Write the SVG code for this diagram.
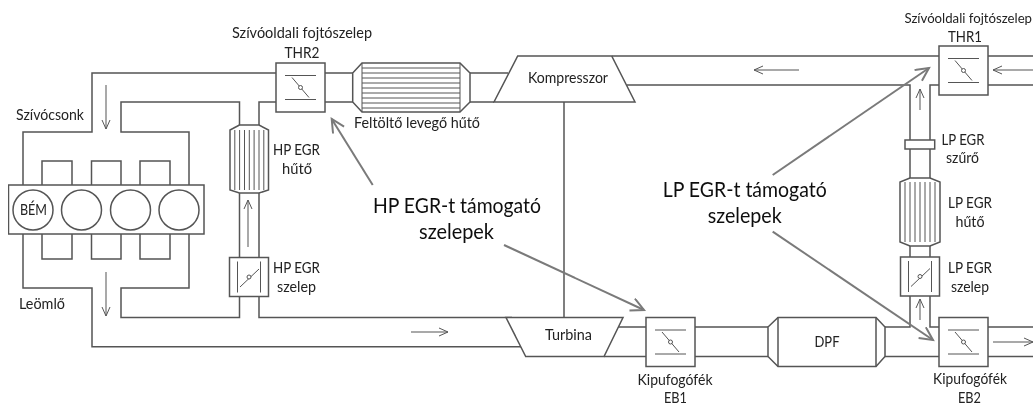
<svg xmlns="http://www.w3.org/2000/svg" xmlns:xlink="http://www.w3.org/1999/xlink" width="1033" height="406" viewBox="0 0 1033 406">
<style>
.l{fill:none;stroke:#555;stroke-width:1.5;stroke-linejoin:miter}
.n{fill:none;stroke:#555;stroke-width:1}
.f{fill:#fff;stroke:#555;stroke-width:1.5}
.c{fill:#fff;stroke:#555;stroke-width:1}
.a{fill:none;stroke:#555;stroke-width:1;marker-end:url(#h)}
.g{fill:none;stroke:#7a7a7a;stroke-width:2;marker-end:url(#H)}
text{font-family:Lato,"Open Sans","Liberation Sans",sans-serif;font-size:14.5px;fill:#222;text-anchor:middle}
.b{font-size:22px;fill:#111}
</style>
<defs>
<filter id="soft" x="0" y="0" width="100%" height="100%"><feGaussianBlur stdDeviation="0.35"/></filter>
<marker id="h" markerUnits="userSpaceOnUse" markerWidth="12" markerHeight="12" refX="10" refY="5" orient="auto"><path d="M1,1L10,5L1,9" fill="none" stroke="#555" stroke-width="1"/></marker>
<marker id="H" markerUnits="userSpaceOnUse" markerWidth="18" markerHeight="18" refX="15" refY="7" orient="auto"><path d="M2,0.5L15,7L2,13.5" fill="none" stroke="#7a7a7a" stroke-width="2"/></marker>
<g id="vh"><rect class="f" x="-24.5" y="-24.5" width="49" height="49"/><path class="n" d="M-15.5,-12H15.5M-15.5,12H15.5M-8.5,-10L8.5,10"/><circle class="c" r="2"/></g>
<g id="vv"><rect class="f" x="-19.5" y="-19.5" width="39" height="39"/><path class="n" d="M-11.5,-15.5V15.5M11.5,-15.5V15.5M-9,10L10,-8"/><circle class="c" r="2"/></g>
</defs>
<rect width="1033" height="406" fill="#fff"/>
<g filter="url(#soft)">
<g id="connectors">
<path class="l" d="M23,185V132H92V73H276"/>
<path class="l" d="M189,185V132H121V102H239.5V125M259,125V102H276"/>
<path class="l" d="M325,73H352.7M325,102H352.7M470,73H508M470,102H494"/>
<path class="l" d="M612,56H939M627,85H910V140M930,140V85H939M910,149V178M930,149V178M910,246V257M930,246V257"/>
<path class="l" d="M988,56H1033M988,85H1033"/>
<path class="l" d="M564,102V317.5"/>
<path class="l" d="M23,234V288H92V346.7H522"/>
<path class="l" d="M189,234V288H121V317.5H239.5V297M259,297V317.5H512"/>
<path class="l" d="M239.5,193V258M259,193V258"/>
<path class="l" d="M618,327H646M604,356.5H646M695,327H768M695,356.5H768"/>
<path class="l" d="M885,327H910V296M930,296V327H939M885,356.5H939M988,327H1033M988,356.5H1033"/>
<path class="a" d="M106,85V129"/>
<path class="a" d="M106,272V316"/>
<path class="a" d="M248,247V200"/>
<path class="a" d="M411,332H448"/>
<path class="a" d="M799,70H754"/>
<path class="a" d="M1033,70H993"/>
<path class="a" d="M920,110V89"/>
<path class="a" d="M920,320V299"/>
<path class="a" d="M993,342H1033"/>
</g>
<g id="engine">
<rect class="l" x="8.5" y="185" width="195.5" height="49"/>
<path class="l" d="M42,185V161H72V185M91.5,185V161H121V185M140,185V161H170V185M42,234V259H72V234M91.5,234V259H121V234M140,234V259H170V234"/>
<circle class="l" cx="33" cy="210" r="20"/><circle class="l" cx="81.5" cy="210" r="20"/><circle class="l" cx="130.5" cy="210" r="20"/><circle class="l" cx="179" cy="210" r="20"/>
<text x="33.5" y="215" textLength="27" lengthAdjust="spacingAndGlyphs">BÉM</text>
</g>
<g id="thr2"><use xlink:href="#vh" href="#vh" transform="translate(300.5 87.5)"/>
<text x="302" y="38" textLength="140" lengthAdjust="spacingAndGlyphs">Szívóoldali fojtószelep</text><text x="302" y="58" textLength="35" lengthAdjust="spacingAndGlyphs">THR2</text></g>
<g id="intake-label"><text x="50" y="120" textLength="68" lengthAdjust="spacingAndGlyphs">Szívócsonk</text></g>
<g id="exhaust-label"><text x="42" y="309" textLength="46" lengthAdjust="spacingAndGlyphs">Leömlő</text></g>
<g id="hp-cooler">
<path class="f" d="M239.5,125L230,130V190L239.5,193H259L268.5,190V130L259,125Z"/>
<path class="n" d="M234.8,130V190M239.6,130V190M244.5,130V190M249.3,130V190M254.1,130V190M259,130V190M263.8,130V190"/>
<text x="296.5" y="155" textLength="47" lengthAdjust="spacingAndGlyphs">HP EGR</text><text x="297" y="174" textLength="30" lengthAdjust="spacingAndGlyphs">hűtő</text></g>
<g id="hp-valve"><use xlink:href="#vv" href="#vv" transform="translate(249 277)"/>
<text x="296.5" y="273" textLength="47" lengthAdjust="spacingAndGlyphs">HP EGR</text><text x="296.5" y="292" textLength="39" lengthAdjust="spacingAndGlyphs">szelep</text></g>
<g id="charge-cooler">
<path class="f" d="M352.7,73L362,63H460L470,73V102L460,112H362L352.7,102Z"/>
<path class="n" d="M362,63V112M460,63V112M362,68H460M362,73H460M362,78H460M362,83H460M362,88H460M362,93H460M362,98H460M362,103H460M362,108H460"/>
<text x="417" y="128" textLength="126" lengthAdjust="spacingAndGlyphs">Feltöltő levegő hűtő</text></g>
<g id="compressor"><path class="f" d="M517.7,56H611.7L635,102H494Z"/><text x="568" y="83" textLength="80" lengthAdjust="spacingAndGlyphs">Kompresszor</text></g>
<g id="turbine"><path class="f" d="M506,317.5H623L604,356.5H525.7Z"/><text x="568.5" y="340" textLength="47" lengthAdjust="spacingAndGlyphs">Turbina</text></g>
<g id="eb1"><use xlink:href="#vh" href="#vh" transform="translate(670.5 342)"/>
<text x="675" y="385" textLength="75" lengthAdjust="spacingAndGlyphs">Kipufogófék</text><text x="675.5" y="403" textLength="23" lengthAdjust="spacingAndGlyphs">EB1</text></g>
<g id="dpf"><path class="f" d="M768,327L778,317.5H876L885,327V356.5L876,366.5H778L768,356.5Z"/><path class="l" d="M778,317.5V366.5M876,317.5V366.5"/><text x="827" y="347" textLength="25" lengthAdjust="spacingAndGlyphs">DPF</text></g>
<g id="thr1"><use xlink:href="#vh" href="#vh" transform="translate(963.5 70.5)"/>
<text x="1032" y="23" style="text-anchor:end;font-size:13.2px">Szívóoldali fojtószelep</text><text x="965" y="42" textLength="34" lengthAdjust="spacingAndGlyphs">THR1</text></g>
<g id="lp-filter"><rect class="f" x="905" y="140" width="29.7" height="9"/><text x="963" y="145" textLength="43" lengthAdjust="spacingAndGlyphs">LP EGR</text><text x="962.5" y="163" textLength="33" lengthAdjust="spacingAndGlyphs">szűrő</text></g>
<g id="lp-cooler">
<path class="f" d="M910,178L900,182V242L910,246H930L940,242V182L930,178Z"/>
<path class="n" d="M905,182V242M910,182V242M915,182V242M920,182V242M925,182V242M930,182V242M935,182V242"/>
<text x="970" y="208" textLength="44" lengthAdjust="spacingAndGlyphs">LP EGR</text><text x="970" y="227" textLength="29" lengthAdjust="spacingAndGlyphs">hűtő</text></g>
<g id="lp-valve"><use xlink:href="#vv" href="#vv" transform="translate(920 276.5)"/>
<text x="970" y="273" textLength="44" lengthAdjust="spacingAndGlyphs">LP EGR</text><text x="970" y="292" textLength="38" lengthAdjust="spacingAndGlyphs">szelep</text></g>
<g id="eb2"><use xlink:href="#vh" href="#vh" transform="translate(963.5 342)"/>
<text x="970" y="384" textLength="74" lengthAdjust="spacingAndGlyphs">Kipufogófék</text><text x="969.5" y="403" textLength="23" lengthAdjust="spacingAndGlyphs">EB2</text></g>
<g id="annotations">
<path class="g" d="M372.7,185L331.7,119"/>
<path class="g" d="M504,245L644,310"/>
<path class="g" d="M772.7,175L929,68"/>
<path class="g" d="M772.7,231.7L933,340"/>
<text class="b" x="457" y="213" textLength="168" lengthAdjust="spacingAndGlyphs">HP EGR-t támogató</text>
<text class="b" x="456.5" y="239" textLength="75" lengthAdjust="spacingAndGlyphs">szelepek</text>
<text class="b" x="744.7" y="197" textLength="164" lengthAdjust="spacingAndGlyphs">LP EGR-t támogató</text>
<text class="b" x="744.7" y="223" textLength="74" lengthAdjust="spacingAndGlyphs">szelepek</text>
</g>
</g>
</svg>
